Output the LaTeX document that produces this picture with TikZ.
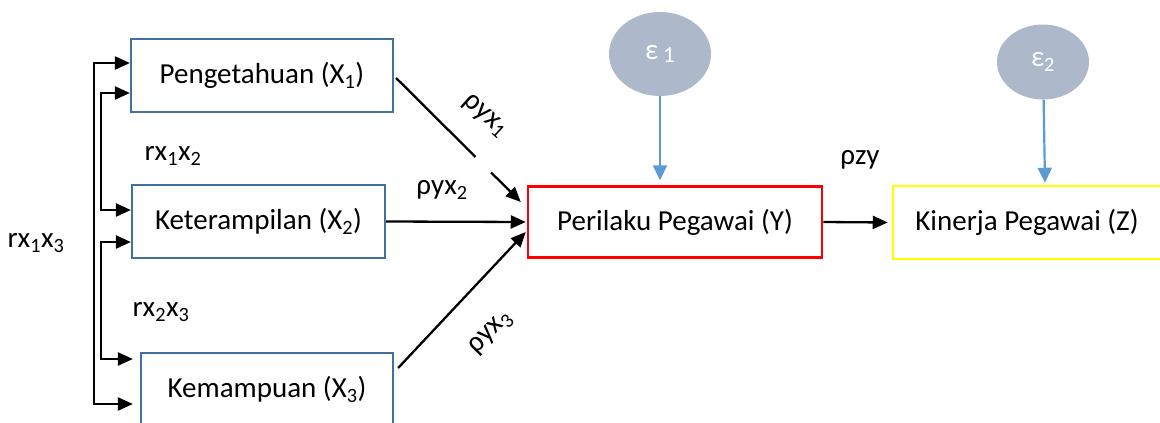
\documentclass[tikz,border=0pt]{standalone}
\usepackage{fontspec}
\setmainfont{Carlito}
\usetikzlibrary{arrows.meta,shapes.geometric}
\definecolor{boxblue}{HTML}{41719C}
\definecolor{errfill}{HTML}{ADB9CA}
\definecolor{errline}{HTML}{5B9BD5}
\definecolor{ybox}{HTML}{FFFF00}
\newcommand{\sub}[1]{\textsubscript{#1}}
\begin{document}
\begin{tikzpicture}[x=1pt,y=-1pt,
  font=\fontsize{29}{33}\selectfont,
  varbox/.style={draw=boxblue,line width=2.2pt,rectangle,minimum height=73pt,inner sep=0pt},
  errnode/.style={ellipse,fill=errfill,draw=none,text=white,inner sep=0pt},
  conn/.style={line width=2.3pt,-{Triangle[length=15pt,width=13pt]}},
  corr/.style={line width=2.3pt,{Triangle[length=15pt,width=13pt]}-{Triangle[length=15pt,width=13pt]}},
  errarrow/.style={draw=errline,line width=2.2pt,-{Triangle[length=15pt,width=14pt]},errline},
  lab/.style={inner sep=0pt}]
\useasboundingbox (0,0) rectangle (1160,423);
\clip (0,0) rectangle (1160,423);

% exogenous variables
\node[varbox,minimum width=262pt] (X1) at (262,75.5) {Pengetahuan (X\sub{1})};
\node[varbox,minimum width=253pt] (X2) at (258.5,221.5) {Keterampilan (X\sub{2})};
\node[varbox,minimum width=252pt] (X3) at (267,389.5) {Kemampuan (X\sub{3})};

% endogenous variables
\node[rectangle,draw=red,line width=2.5pt,minimum width=294pt,minimum height=71pt,inner sep=0pt] (Y) at (675,222) {Perilaku Pegawai (Y)};
\node[rectangle,draw=ybox,line width=2.5pt,minimum width=268pt,minimum height=73pt,inner sep=0pt] (Z) at (1027,222.5) {Kinerja Pegawai (Z)};

% residual terms
\node[errnode,minimum width=102pt,minimum height=84pt] (e1) at (660,54) {ε\,\raisebox{-3pt}{\fontsize{23}{25}\selectfont 1}};
\node[errnode,minimum width=92pt,minimum height=75pt] (e2) at (1043,62) {\raisebox{-5pt}{ε\sub{2}}};

% correlations among the exogenous variables
\draw[corr] ([yshift=12.5pt]X1.west) -- ++(-36,0) |- ([xshift=-7pt,yshift=-14.5pt]X3.west);
\draw[corr] ([yshift=-17.5pt]X1.west) -- ++(-29,0) |- ([yshift=11.5pt]X2.west);
\draw[corr] ([yshift=-20.5pt]X2.west) -- ++(-30,0) |- ([xshift=-7pt,yshift=30.5pt]X3.west);

\node[lab] (r12) at (173,156) {rx\sub{1}x\sub{2}};
\node[lab] (r13) at (36,243) {rx\sub{1}x\sub{3}};
\node[lab] (r23) at (161,312) {rx\sub{2}x\sub{3}};

% paths to Y and Z
\draw[conn,dash pattern=on 112pt off 22pt on 300pt] ([xshift=2pt,yshift=-2.5pt]X1.east) -- ([xshift=-6pt,yshift=20pt]Y.west);
\draw[conn] (X2.east) -- ([xshift=-1pt]Y.west);
\draw[conn] ([xshift=4pt,yshift=21.5pt]X3.east) -- ([xshift=-1pt,yshift=-10pt]Y.west);
\draw[conn] (Y.east) -- ([xshift=-4pt]Z.west);

\node[lab,rotate=-42] (p1) at (485,116) {ρyx\sub{1}};
\node[lab] (p2) at (442,190) {ρyx\sub{2}};
\node[lab,rotate=45] (p3) at (491,333) {ρyx\sub{3}};
\node[lab] (pz) at (860,160) {ρzy};

% residual arrows
\coordinate (e1end) at (e1 |- Y.north);
\coordinate (e2end) at (e2 |- Z.north);
\draw[errarrow] (e1) -- ([yshift=5pt]e1end);
\draw[errarrow] (e2) -- ([xshift=2pt,yshift=2pt]e2end);
\end{tikzpicture}
\end{document}
